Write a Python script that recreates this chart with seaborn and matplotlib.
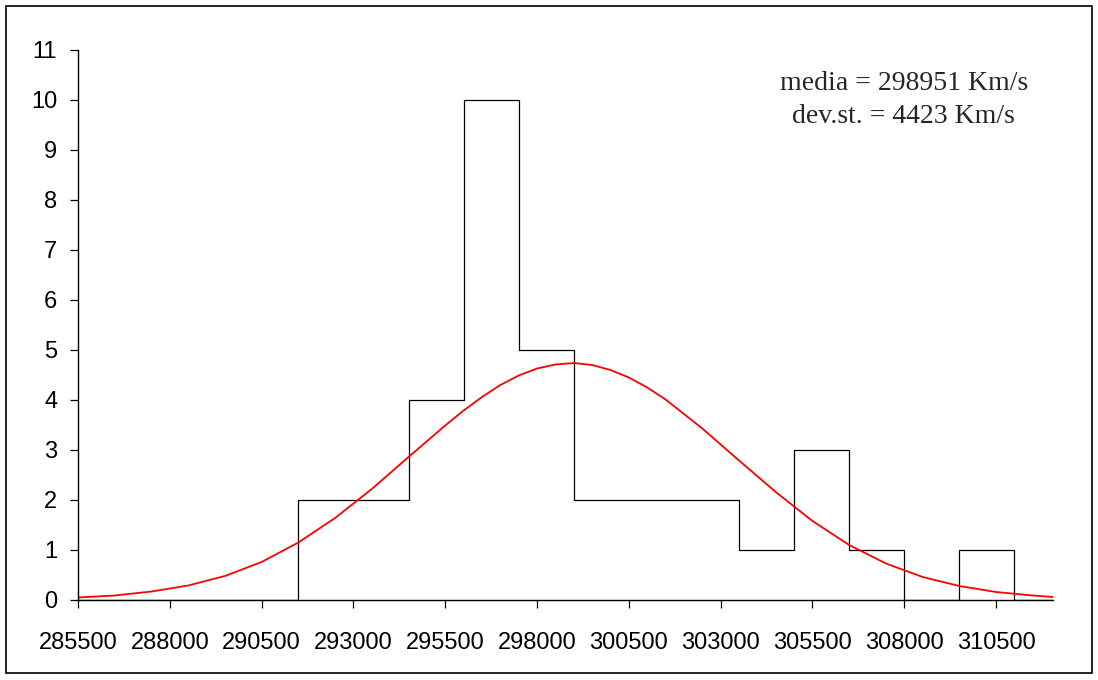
import matplotlib
matplotlib.use("Agg")
import matplotlib.pyplot as plt
import seaborn as sns
from matplotlib.patches import Rectangle

# -------------------------------
# Data
# -------------------------------

bin_edges = [285500, 287000, 288500, 290000, 291500, 293000, 294500, 296000, 297500,
             299000, 300500, 302000, 303500, 305000, 306500, 308000, 309500, 311000, 312500]
counts = [0, 0, 0, 0, 2, 2, 4, 10, 5, 2, 2, 2, 1, 3, 1, 0, 1, 0]

curve_x = [285500, 286500, 287500, 288500, 289500, 290500, 291500, 292500, 293500,
           294500, 295500, 296000, 296500, 297000, 297500, 298000, 298500, 299000,
           299500, 300000, 300500, 301000, 301500, 302500, 303500, 304500, 305500,
           306500, 307500, 308500, 309500, 310500, 311500, 312050]
curve_y = [0.05, 0.09, 0.17, 0.29, 0.48, 0.76, 1.15, 1.64, 2.22,
           2.86, 3.49, 3.79, 4.06, 4.30, 4.49, 4.63, 4.71, 4.74,
           4.70, 4.60, 4.45, 4.25, 4.01, 3.43, 2.79, 2.16, 1.58,
           1.10, 0.73, 0.46, 0.28, 0.16, 0.09, 0.06]

x_ticks = [285500, 288000, 290500, 293000, 295500, 298000, 300500, 303000, 305500, 308000, 310500]
y_ticks = [0, 1, 2, 3, 4, 5, 6, 7, 8, 9, 10, 11]

media = 298951
dev_st = 4423

# -------------------------------
# Plot
# -------------------------------

sns.set_style("white")
plt.rcParams["font.family"] = ["Liberation Sans", "DejaVu Sans"]

W, H = 1098, 680
fig = plt.figure(figsize=(W / 100, H / 100), dpi=100)
ax = fig.add_axes([78 / W, 1 - 600 / H, (1053 - 78) / W, (600 - 50) / H])

centers = [(bin_edges[i] + bin_edges[i + 1]) / 2 for i in range(len(counts))]
sns.histplot(x=centers, weights=counts, bins=bin_edges, element="step",
             fill=False, color="black", linewidth=0.9, ax=ax)
sns.lineplot(x=curve_x, y=curve_y, color="red", linewidth=1.3, ax=ax)

ax.set_xlim(285500, 312050)
ax.set_ylim(0, 11)
ax.set_xticks(x_ticks)
ax.set_xticklabels([str(t) for t in x_ticks])
ax.set_yticks(y_ticks)
ax.set_xlabel("")
ax.set_ylabel("")

for side in ["top", "right"]:
    ax.spines[side].set_visible(False)
for side in ["left", "bottom"]:
    ax.spines[side].set_color("black")
    ax.spines[side].set_linewidth(1.0)

ax.tick_params(axis="both", direction="out", length=6, width=0.9, color="black",
               labelsize=17, labelcolor="black", bottom=True, left=True)
ax.tick_params(axis="y", pad=9)
ax.tick_params(axis="x", pad=17)

ax.text(0.847, 10.0, f"media = {media} Km/s\ndev.st. = {dev_st} Km/s",
        transform=ax.get_yaxis_transform(),
        ha="center", va="center", multialignment="center",
        fontsize=20, family="Liberation Serif", linespacing=1.4)

# outer chart border
fig.patches.append(Rectangle((6 / W, 1 - 673 / H), (1092 - 6) / W, (673 - 6) / H,
                             transform=fig.transFigure, fill=False,
                             edgecolor="black", linewidth=1.2))

fig.savefig("out.png", dpi=100)
